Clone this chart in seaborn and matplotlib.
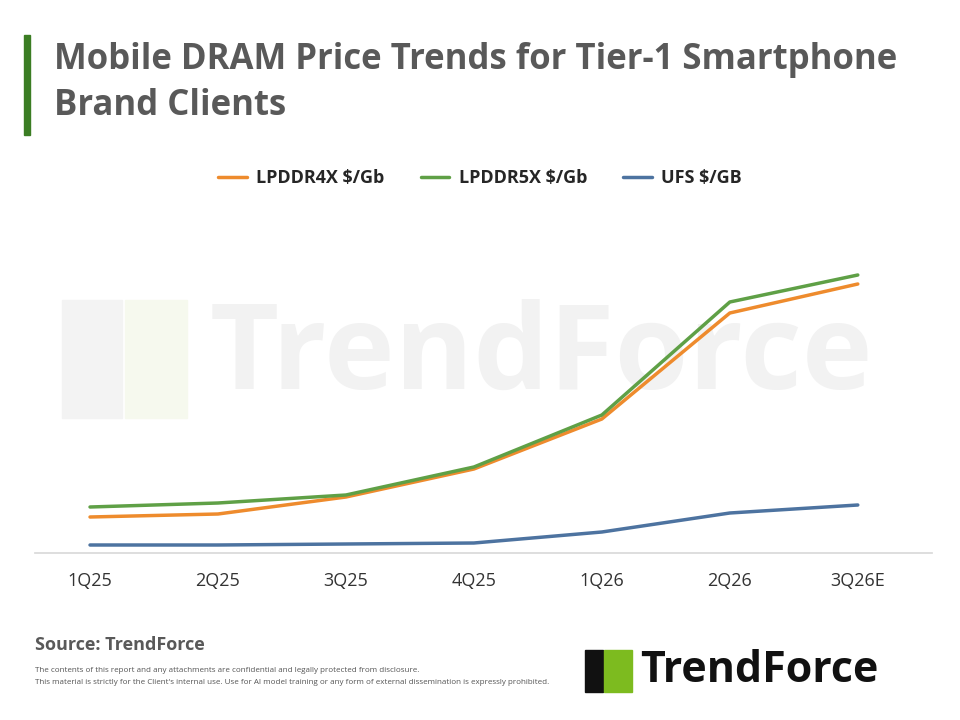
import matplotlib
matplotlib.use('Agg')
import matplotlib.pyplot as plt
import matplotlib.patches as mpatches
import seaborn as sns
import pandas as pd

quarters = ['1Q25', '2Q25', '3Q25', '4Q25', '1Q26', '2Q26', '3Q26E']
lpddr4x = [36, 39, 56, 84, 134, 240, 269]
lpddr5x = [46, 50, 58, 86, 138, 251, 278]
ufs = [8, 8, 9, 10, 21, 40, 48]
series_names = ['LPDDR4X $/Gb', 'LPDDR5X $/Gb', 'UFS $/GB']
colors = ['#EE8B2D', '#5FA046', '#4D73A0']

sns.set_theme(style='white')
plt.rcParams['font.family'] = ['Open Sans', 'DejaVu Sans']

df = pd.DataFrame({'quarter': quarters * 3,
                   'x': list(range(7)) * 3,
                   'value': lpddr4x + lpddr5x + ufs,
                   'series': [s for s in series_names for _ in quarters]})

fig = plt.figure(figsize=(9.6, 7.2), dpi=100)
ax = fig.add_axes([35/960, 1 - 553/720, (932 - 35)/960, 353/720])

# watermark, kept behind the axes
fig.add_artist(mpatches.Rectangle((62/960, 1 - 418/720), 60/960, 118/720, color='#F3F3F3',
                                  transform=fig.transFigure, zorder=-1))
fig.add_artist(mpatches.Rectangle((125/960, 1 - 418/720), 62/960, 118/720, color='#F6F9EE',
                                  transform=fig.transFigure, zorder=-1))
fig.text(210/960, 1 - 358/720, 'TrendForce', fontsize=86, fontweight='bold',
         color='#F2F2F2', ha='left', va='center', zorder=-1)

sns.lineplot(data=df, x='x', y='value', hue='series', palette=colors, linewidth=2.5,
             ax=ax, legend=False, zorder=3)

ax.set_xlim(-0.43, 6.58)
ax.set_ylim(0, 353)
ax.set_xticks(range(7))
ax.set_xticklabels(quarters, fontsize=13, color='#333333')
ax.tick_params(axis='x', length=0, pad=14)
ax.set_yticks([])
ax.set_xlabel('')
ax.set_ylabel('')
ax.patch.set_alpha(0)
for s in ['top', 'right', 'left']:
    ax.spines[s].set_visible(False)
ax.spines['bottom'].set_color('#D9D9D9')

handles = [plt.Line2D([], [], color=c, lw=2.5) for c in colors]
fig.legend(handles, series_names, loc='center', bbox_to_anchor=(0.5, 1 - 178/720), ncol=3,
           frameon=False, prop={'size': 13, 'weight': 'bold'}, handlelength=1.6,
           columnspacing=2.0, handletextpad=0.5)

# title
fig.add_artist(mpatches.Rectangle((24/960, 1 - 135/720), 6/960, 100/720, color='#3B7D23',
                                  transform=fig.transFigure))
fig.text(54/960, 1 - 60/720, 'Mobile DRAM Price Trends for Tier-1 Smartphone', fontsize=25,
         fontweight='bold', color='#595959', va='center')
fig.text(54/960, 1 - 106/720, 'Brand Clients', fontsize=25, fontweight='bold',
         color='#595959', va='center')

fig.text(35/960, 1 - 645/720, 'Source: TrendForce', fontsize=13, fontweight='bold',
         color='#595959', va='center')
fig.text(35/960, 1 - 670/720,
         'The contents of this report and any attachments are confidential and legally protected from disclosure.',
         fontsize=5.8, color='#555555', va='center')
fig.text(35/960, 1 - 683/720,
         "This material is strictly for the Client's internal use. Use for AI model training or any form of external dissemination is expressly prohibited.",
         fontsize=5.8, color='#555555', va='center')

# logo
fig.add_artist(mpatches.Rectangle((585/960, 1 - 692/720), 18/960, 42/720, color='#111111',
                                  transform=fig.transFigure))
fig.add_artist(mpatches.Rectangle((604/960, 1 - 692/720), 28/960, 42/720, color='#7DBB1F',
                                  transform=fig.transFigure))
fig.text(640/960, 1 - 670/720, 'TrendForce', fontsize=31, fontweight='bold', color='#111111',
         va='center')

fig.savefig('out.png', dpi=100)
